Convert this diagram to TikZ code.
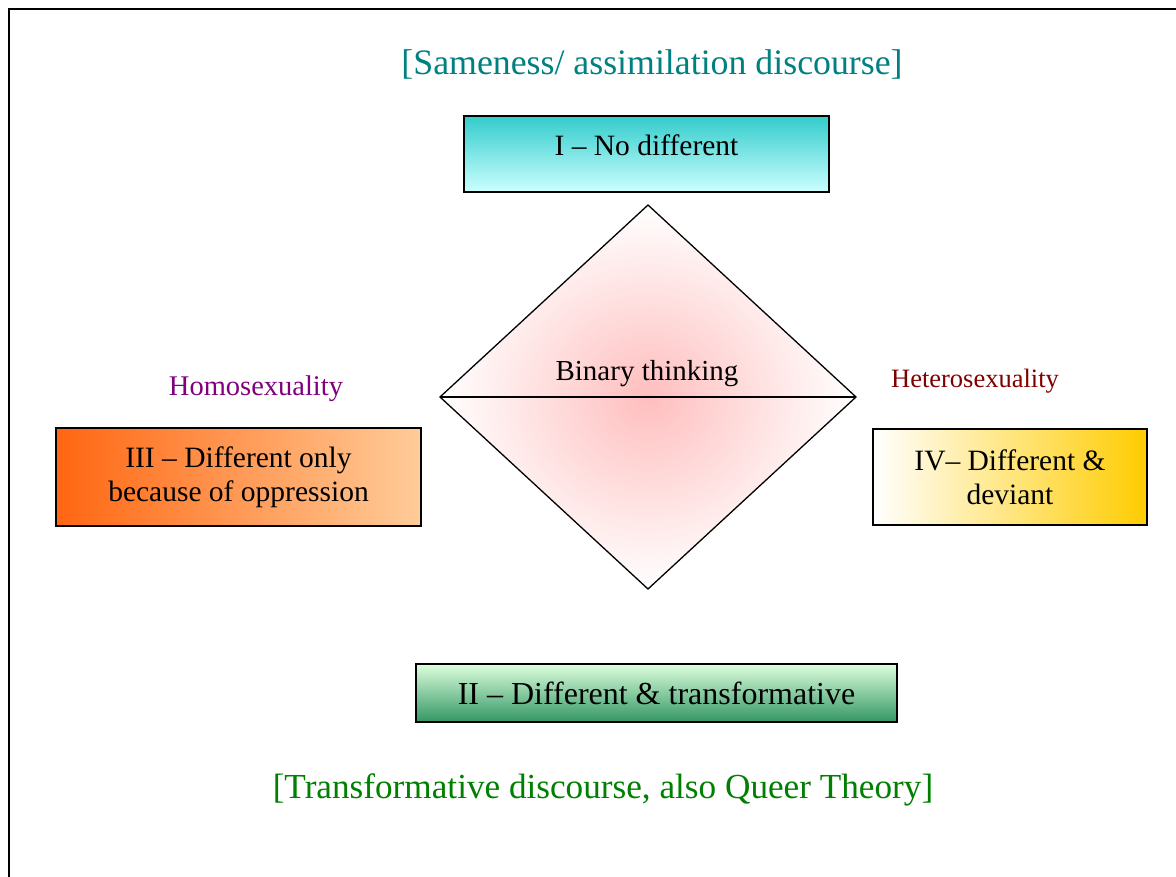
\documentclass[tikz,border=0pt]{standalone}
\usepackage{fontspec}
\setmainfont{Liberation Serif}
\usetikzlibrary{shapes.geometric}
\definecolor{teal1}{RGB}{0,128,128}
\definecolor{purp}{RGB}{128,0,128}
\definecolor{dred}{RGB}{128,0,0}
\definecolor{grn}{RGB}{0,128,0}
\definecolor{cyanTop}{RGB}{51,204,204}
\definecolor{cyanBot}{RGB}{204,255,255}
\definecolor{orangeL}{RGB}{255,102,17}
\definecolor{peachR}{RGB}{255,204,153}
\definecolor{goldR}{RGB}{255,204,0}
\definecolor{greenTop}{RGB}{221,255,221}
\definecolor{greenBot}{RGB}{51,150,100}
\definecolor{pinkC}{RGB}{255,190,190}
\begin{document}
\begin{tikzpicture}[x=1pt,y=-1pt,
  boxst/.style={draw=black,line width=1.5pt,inner sep=0pt,align=center,font=\fontsize{29.5}{34}\selectfont},
  lbl/.style={inner sep=0pt},
  head/.style={inner sep=0pt}]
\useasboundingbox (0,0) rectangle (1176,877);
\fill[white] (0,0) rectangle (1176,877);
% frame
\draw[line width=2.2pt] (9,877) -- (9,9) -- (1176,9);
% headings
\node[head,text=teal1,font=\fontsize{35.8}{40}\selectfont] (top) at (652,64) {[Sameness/ assimilation discourse]};
\node[head,text=grn,font=\fontsize{35.2}{40}\selectfont] (bot) at (603,790) {[Transformative discourse, also Queer Theory]};
% box I
\node[boxst,minimum width=365pt,minimum height=76pt,top color=cyanTop,bottom color=cyanBot,text depth=18pt] (b1) at (646.5,154) {I -- No different};
% box II
\node[boxst,minimum width=481pt,minimum height=58pt,top color=greenTop,bottom color=greenBot,font=\fontsize{32}{36}\selectfont] (b2) at (656.5,693) {II -- Different \& transformative};
% box III
\node[boxst,minimum width=365pt,minimum height=98pt,left color=orangeL,right color=peachR] (b3) at (238.5,477) {III -- Different only\\because of oppression};
% box IV
\node[boxst,minimum width=274pt,minimum height=96pt,left color=white,right color=goldR] (b4) at (1010,477) {IV-- Different \&\\deviant};
% side labels
\node[lbl,text=purp,font=\fontsize{28.5}{32}\selectfont] (homo) at (256,389) {Homosexuality};
\node[lbl,text=dred,font=\fontsize{26.5}{30}\selectfont] (hetero) at (975,381) {Heterosexuality};
% diamond
\coordinate (dt) at (648,205);
\coordinate (dl) at (440,397);
\coordinate (dr) at (856,397);
\coordinate (db) at (648,589);
\shade[inner color=pinkC,outer color=white] (dt) -- (dr) -- (db) -- (dl) -- cycle;
\draw[line width=1.3pt,line join=miter] (dt) -- (dr) -- (db) -- (dl) -- cycle;
\draw[line width=1.3pt] (dl) -- (dr);
\node[inner sep=0pt,font=\fontsize{29}{32}\selectfont] (bin) at (647,374) {Binary thinking};
\end{tikzpicture}
\end{document}
